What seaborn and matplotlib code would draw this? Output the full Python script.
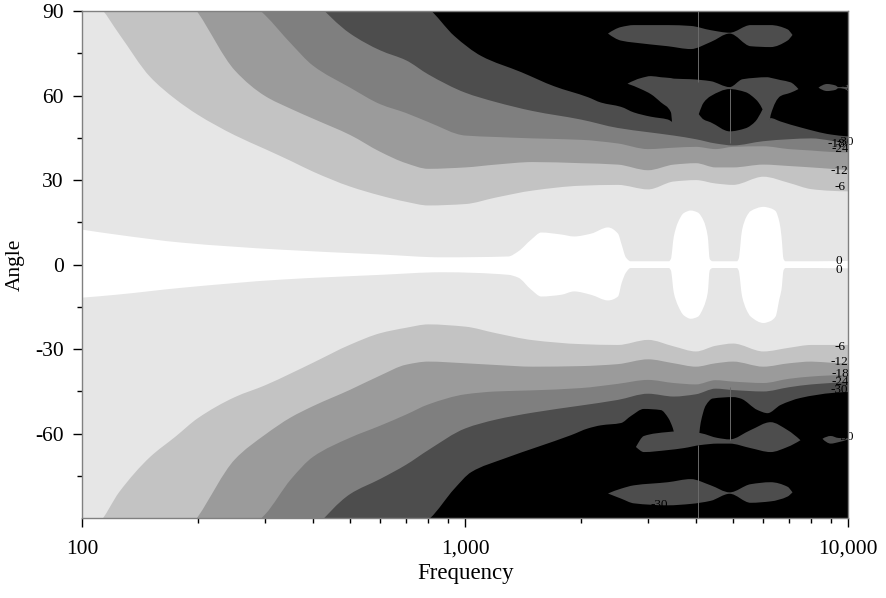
import numpy as np
import matplotlib
matplotlib.use("Agg")
import matplotlib.pyplot as plt
from matplotlib.path import Path
from matplotlib.patches import PathPatch
from matplotlib.ticker import FixedLocator, FuncFormatter, NullFormatter
import seaborn as sns

sns.set_theme(style="ticks")
plt.rcParams["font.family"] = ["Liberation Serif", "DejaVu Serif"]
plt.rcParams["axes.unicode_minus"] = False

# ---- contour levels (dB) and fill shades, outermost level first ----
level_labels = ["-30", "-24", "-18", "-12", "-6", "0"]
level_colors = ["#4d4d4d", "#7f7f7f", "#9b9b9b", "#c3c3c3", "#e6e6e6", "#ffffff"]
floor_color = "#000000"

# ---- contour crossing angles (deg) for the -24 ... -6 dB levels ----
band_freq = [100, 110, 125, 150, 175, 200, 250, 300, 350, 400, 500, 600, 700, 800,
             1000, 1200, 1500, 2000, 2500, 3000, 3500, 4000, 4500, 5000, 6000,
             7000, 8000, 9000, 10000]
upper_m6 = [96, 92, 81.6, 66.7, 58.7, 53.2, 45.9, 41.0, 36.8, 33.0, 27.7, 24.5, 22.3, 21.0,
            21.5, 23.8, 26.3, 28.0, 28.3, 26.7, 29.5, 30.0, 28.8, 28.3, 31.2,
            29.0, 26.8, 26.2, 26.0]
upper_m12 = [150, 140, 130, 115, 100, 89.5, 68.9, 59.8, 55.3, 51.8, 46.0, 40.0, 36.0, 34.0,
             34.5, 35.5, 36.4, 36.0, 35.5, 33.5, 35.5, 36.0, 34.5, 34.5, 35.5,
             35.0, 34.5, 34.0, 33.5]
upper_m18 = [170, 160, 150, 135, 122, 112, 98, 88.5, 78.5, 70.6, 62.8, 56.9, 53.8, 50.6,
             45.8, 45.3, 44.8, 44.3, 43.0, 41.0, 41.5, 41.8, 41.0, 41.8, 42.0,
             41.0, 40.5, 40.0, 39.8]
upper_m24 = [200, 190, 178, 162, 150, 140, 124, 112, 102, 94, 82, 76, 72.5, 67.5,
             61.0, 57.7, 54.5, 51.5, 48.5, 47.0, 45.8, 44.5, 43.0, 42.3, 43.8,
             44.5, 44.8, 44.0, 42.5]
lower_m6 = [-96, -92, -80.5, -68.3, -61, -54.5, -47.0, -42.8, -38.6, -34.8, -28.4, -24.3, -22.4, -21.2,
            -22.0, -24.3, -26.8, -28.2, -28.5, -26.7, -29.0, -30.8, -28.8, -28.0, -30.8,
            -29.5, -28.5, -28.5, -28.5]
lower_m12 = [-150, -140, -130, -115, -100, -89.5, -69.1, -60.3, -54.2, -50.2, -44.4, -39.3, -35.5, -34.4,
             -35.0, -35.6, -36.2, -36.0, -35.3, -33.6, -35.0, -36.2, -35.0, -34.4, -36.2,
             -35.0, -34.4, -34.8, -35.0]
lower_m18 = [-170, -160, -150, -135, -122, -112, -98, -88.6, -76.2, -68.2, -61.4, -57.1, -53.2, -49.6,
             -46.0, -45.0, -44.6, -43.8, -42.3, -40.9, -42.0, -42.5, -41.0, -41.5, -42.0,
             -40.5, -39.7, -39.3, -39.1]
lower_m24 = [-200, -190, -178, -162, -150, -140, -124, -112, -102, -94, -81.4, -76.0, -71.0, -65.8,
             -58.1, -55.0, -52.5, -50.0, -48.0, -45.8, -46.8, -46.0, -44.0, -44.5, -45.0,
             -43.5, -42.5, -42.0, -41.5]

# ---- -30 dB contour ----
upper_m30_freq = [100, 300, 500, 700, 800, 936, 1101, 1399, 1705, 2091, 2261, 2548, 2755,
                  3050, 3378, 3502, 6152, 6266, 6650, 7500, 8980, 10000]
upper_m30 = [170, 130, 108, 96, 91, 81.1, 74.0, 68.3, 63.3, 59.4, 57.5, 56.0, 54.0,
             52.5, 51.5, 50.5, 50.5, 52.0, 50.8, 48.7, 46.2, 45.5]
lower_m30_freq = [100, 500, 700, 808, 936, 1036, 1264, 1549, 1888, 2091, 2261, 2548, 2706,
                  2925, 3239, 3390, 3481, 3566, 4045, 4117, 4242, 4424, 5018, 5233, 5794,
                  6152, 6653, 7499, 9140, 10000]
lower_m30 = [-170, -110, -96, -90, -79.5, -73.6, -68.8, -64.6, -60.5, -58.1, -57.0, -56.2, -53.7,
             -51.2, -51.6, -54.5, -58.0, -63.0, -63.0, -56.0, -50.0, -47.5, -47.0, -47.5, -51.6,
             -52.7, -49.8, -47.3, -45.5, -45.2]

# pockets above -30 dB inside the off-axis region
top_isl_freq = [2357, 2548, 2755, 3378, 3878, 4371, 4899, 5557, 6266, 6937, 7148]
top_isl_hi = [82.0, 84.3, 85.0, 85.0, 84.7, 83.2, 82.3, 85.0, 85.0, 83.5, 81.5]
top_isl_lo = [82.0, 79.5, 78.8, 77.5, 76.5, 79.0, 82.0, 77.5, 77.2, 79.5, 81.5]
bot_isl_hi = [-81.2, -79.5, -78.3, -77.2, -76.1, -78.3, -80.8, -77.9, -77.2, -78.8, -80.8]
bot_isl_lo = [-81.2, -83.0, -84.7, -85.4, -84.9, -83.8, -81.3, -84.5, -84.0, -82.3, -80.8]

mid_up_freq = [2650, 2873, 3050, 3239, 3440, 3502, 3878, 4371, 4899, 5297, 6152, 6266, 6650, 7063, 7409]
mid_up_hi = [64.2, 66.2, 66.9, 66.5, 66.2, 66.0, 65.8, 65.1, 63.0, 65.8, 66.5, 66.3, 65.5, 64.7, 62.3]
mid_up_lo = [64.2, 62.3, 60.5, 57.6, 54.1, 45.0, 45.0, 45.0, 45.0, 45.0, 45.0, 53.0, 59.8, 61.0, 62.3]

hole_freq = [4069, 4190, 4371, 4899, 5393, 5726, 5830, 5970]
hole_hi = [53.4, 57.5, 59.8, 62.3, 61.2, 58.7, 57.5, 55.1]
hole_lo = [53.4, 51.5, 50.5, 47.3, 48.4, 50.9, 52.5, 55.1]

mid_lo_freq = [2788, 2925, 3378, 3718, 4117, 4560, 4899, 5557, 6266, 6937, 7499]
mid_lo_hi = [-64.7, -60.8, -59.4, -59.0, -59.8, -61.5, -62.0, -58.7, -55.9, -58.7, -62.3]
mid_lo_lo = [-64.7, -66.5, -65.8, -65.1, -64.0, -63.5, -63.5, -65.1, -66.5, -64.7, -62.3]

edge_up_freq = [8357, 8800, 9250, 9419, 10000]
edge_up_hi = [62.8, 64.1, 63.6, 63.0, 64.0]
edge_up_lo = [62.8, 61.6, 62.0, 62.6, 61.5]
edge_lo_freq = [8560, 9000, 9419, 10000]
edge_lo_hi = [-61.8, -60.8, -61.5, -61.6]
edge_lo_lo = [-61.8, -63.5, -63.0, -62.0]

# ---- 0 dB contour ----
zero_freq = [100, 122, 182, 331, 604, 866, 1294, 1374, 1486, 1578, 1778, 1922, 2129, 2357,
             2503, 2560, 2626, 2700, 3400, 3440, 3502, 3590, 3718, 3878, 4045, 4190, 4293,
             4345, 4420, 5120, 5170, 5280, 5420, 5557, 6006, 6266, 6456, 6610, 6690, 6773,
             6850, 10000]
zero_up = [12.4, 10.7, 7.8, 5.3, 3.6, 2.6, 2.9, 4.7, 8.9, 11.4, 10.7, 10.0, 11.0, 13.2,
           11.0, 7.0, 2.5, 1.2, 1.2, 2.0, 10.0, 15.0, 18.3, 19.2, 18.5, 15.5, 10.1,
           2.0, 1.2, 1.2, 2.0, 12.4, 17.0, 19.0, 20.5, 20.0, 19.0, 15.0, 10.0, 2.0,
           1.2, 1.3]
zero_lo = [-11.7, -10.7, -8.2, -5.3, -3.6, -2.7, -3.6, -4.6, -8.9, -11.3, -10.7, -9.5, -10.7, -12.7,
           -11.3, -6.4, -2.8, -1.2, -1.2, -2.0, -10.0, -14.5, -18.0, -19.2, -18.5, -15.0, -10.0,
           -2.0, -1.2, -1.2, -2.0, -11.3, -16.0, -18.4, -20.7, -20.0, -18.4, -12.0, -8.9, -2.0,
           -1.2, -1.3]

# ---- inline contour labels (the last flag keeps a label inside the plot frame) ----
label_text = ["0", "0", "-6", "-12", "-18", "-24", "-30", "-30", "-30",
              "-6", "-12", "-18", "-24", "-30", "-30", "-30"]
label_freq = [9450, 9450, 9530, 9450, 9300, 9530, 9800, 5430, 10150,
              9530, 9450, 9530, 9530, 9450, 9800, 3200]
label_angle = [1.3, -1.9, 27.4, 33.1, 42.9, 40.9, 43.6, 50.5, 62.9,
               -29.2, -34.5, -38.8, -41.6, -44.5, -61.2, -85.4]
label_rot = [0, 0, 0, 0, 0, 0, 0, 28, 0, 0, 0, 0, 0, 0, 0, 0]
label_clip = [False, False, False, False, False, False, False, False, True,
              False, False, False, False, False, False, True]

# ---- axes ----
freq_ticks = [100, 1000, 10000]
angle_ticks = [-60, -30, 0, 30, 60, 90]
angle_minor = [-75, -45, -15, 15, 45, 75]
freq_minor = [200, 300, 400, 500, 600, 700, 800, 900,
              2000, 3000, 4000, 5000, 6000, 7000, 8000, 9000]


def _end_slope(h0, h1, d0, d1):
    s = ((2 * h0 + h1) * d0 - h0 * d1) / (h0 + h1)
    if np.sign(s) != np.sign(d0):
        return 0.0
    if np.sign(d0) != np.sign(d1) and abs(s) > abs(3 * d0):
        return 3 * d0
    return s


def _slopes(u, a):
    """Shape-preserving (monotone cubic) tangents of a(u)."""
    h = np.diff(u)
    d = np.diff(a) / h
    m = np.zeros_like(a)
    if len(a) == 2:
        m[:] = d[0]
        return m
    for k in range(1, len(a) - 1):
        if d[k - 1] * d[k] <= 0:
            m[k] = 0.0
        else:
            w1, w2 = 2 * h[k] + h[k - 1], h[k] + 2 * h[k - 1]
            m[k] = (w1 + w2) / (w1 / d[k - 1] + w2 / d[k])
    m[0] = _end_slope(h[0], h[1], d[0], d[1])
    m[-1] = _end_slope(h[-1], h[-2], d[-1], d[-2])
    return m


def _curve(freqs, angles):
    """Bezier vertices of a smooth contour line through the given points."""
    f = np.asarray(freqs, float)
    a = np.asarray(angles, float)
    u = np.log10(f)
    m = _slopes(u, a)
    verts = [(f[0], a[0])]
    for i in range(len(u) - 1):
        h = u[i + 1] - u[i]
        verts.append((10 ** (u[i] + h / 3), a[i] + m[i] * h / 3))
        verts.append((10 ** (u[i + 1] - h / 3), a[i + 1] - m[i + 1] * h / 3))
        verts.append((f[i + 1], a[i + 1]))
    return verts


fig = plt.figure(figsize=(8.87, 5.98), dpi=100)
ax = fig.add_axes([0.0930, 0.1333, 0.8634, 0.8483])
ax.set_facecolor(floor_color)
ax.set_xscale("log")
ax.set_xlim(100, 10000)
ax.set_ylim(-90, 90)


def fill(freqs, lo, hi, color):
    lo = np.broadcast_to(np.asarray(lo, float), (len(freqs),))
    hi = np.broadcast_to(np.asarray(hi, float), (len(freqs),))
    top = _curve(freqs, hi)
    bot = _curve(freqs, lo)[::-1]
    n = len(top)
    verts = top + bot + [top[0]]
    codes = ([Path.MOVETO] + [Path.CURVE4] * (n - 1) + [Path.LINETO]
             + [Path.CURVE4] * (n - 1) + [Path.CLOSEPOLY])
    ax.add_patch(PathPatch(Path(verts, codes), facecolor=color, edgecolor="none",
                           linewidth=0, zorder=1, transform=ax.transData))


# -30 dB region and its off-axis pockets
fill(upper_m30_freq, 0, upper_m30, level_colors[0])
fill(lower_m30_freq, lower_m30, 0, level_colors[0])
fill(top_isl_freq, top_isl_lo, top_isl_hi, level_colors[0])
fill(top_isl_freq, bot_isl_lo, bot_isl_hi, level_colors[0])
fill(mid_up_freq, mid_up_lo, mid_up_hi, level_colors[0])
fill(hole_freq, hole_lo, hole_hi, floor_color)
fill(mid_lo_freq, mid_lo_lo, mid_lo_hi, level_colors[0])
fill(edge_up_freq, edge_up_lo, edge_up_hi, level_colors[0])
fill(edge_lo_freq, edge_lo_lo, edge_lo_hi, level_colors[0])

# -24 ... -6 dB regions
for up, lo, color in [(upper_m24, lower_m24, level_colors[1]),
                      (upper_m18, lower_m18, level_colors[2]),
                      (upper_m12, lower_m12, level_colors[3]),
                      (upper_m6, lower_m6, level_colors[4])]:
    fill(band_freq, 0, up, color)
    fill(band_freq, lo, 0, color)

# 0 dB region
fill(zero_freq, zero_lo, zero_up, level_colors[5])

# faint seams in the polygon fill
seam_kw = dict(colors="#6a6a6a", linewidth=0.7, zorder=2)
ax.vlines(4045, 64.7, 90, **seam_kw)
ax.vlines(4045, -90, -64.0, **seam_kw)
ax.vlines(4899, 43.0, 62.3, **seam_kw)
ax.vlines(4899, -62.3, -43.4, **seam_kw)

for t, f, a, r, c in zip(label_text, label_freq, label_angle, label_rot, label_clip):
    ax.text(f, a, t, fontsize=9.5, color="black", ha="center", va="center",
            rotation=r, zorder=3, clip_on=c)

ax.xaxis.set_major_locator(FixedLocator(freq_ticks))
ax.xaxis.set_minor_locator(FixedLocator(freq_minor))
ax.xaxis.set_major_formatter(FuncFormatter(lambda v, p: f"{v:,.0f}"))
ax.xaxis.set_minor_formatter(NullFormatter())
ax.yaxis.set_major_locator(FixedLocator(angle_ticks))
ax.yaxis.set_minor_locator(FixedLocator(angle_minor))

ax.tick_params(which="major", direction="out", length=6.5, width=1.0, color="black",
               labelsize=15.5, labelcolor="black")
ax.tick_params(axis="y", which="major", pad=7)
ax.tick_params(axis="x", which="major", pad=9)
ax.tick_params(which="minor", direction="out", length=3.5, width=1.0, color="black")
ax.tick_params(axis="both", bottom=True, left=True, top=False, right=False)
for side in ["left", "right", "top", "bottom"]:
    ax.spines[side].set_visible(True)
    ax.spines[side].set_color("#808080")
    ax.spines[side].set_linewidth(1.0)
    ax.spines[side].set_zorder(4)

ax.set_xlabel("Frequency", fontsize=16.5, labelpad=3, color="black")
ax.set_ylabel("Angle", fontsize=15.5, labelpad=7, color="black")
ax.grid(False)

fig.savefig("out.png", dpi=100)
